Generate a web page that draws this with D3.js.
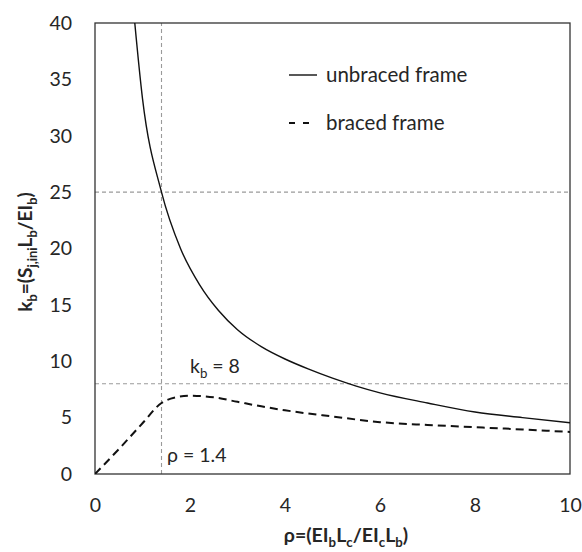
<!DOCTYPE html>
<html>
<head>
<meta charset="utf-8">
<script src="https://cdn.jsdelivr.net/npm/d3@7"></script>
<style>
  body { margin: 0; background: #fff; }
  svg text { font-family: Lato, "Open Sans", sans-serif; fill: #262626; }
</style>
</head>
<body>
<div id="chart"></div>
<script>
// values
const unbracedRho = [0.8, 1.0, 1.4, 1.8, 2.2, 2.6, 3.0, 3.5, 4.0, 4.5, 5.0, 5.5, 6.0, 7.0, 8.0, 9.0, 10.0];
const unbracedK   = [41.7, 33.3, 25.0, 20.0, 16.8, 14.5, 12.8, 11.3, 10.2, 9.3, 8.5, 7.8, 7.2, 6.3, 5.5, 5.0, 4.55];
const bracedRho = [0, 0.5, 1.0, 1.4, 1.7, 2.0, 2.5, 3.0, 3.5, 4.0, 5.0, 6.0, 7.0, 8.0, 9.0, 10.0];
const bracedK   = [0, 2.2, 4.5, 6.3, 6.8, 6.95, 6.8, 6.4, 6.0, 5.65, 5.1, 4.6, 4.35, 4.15, 3.95, 3.73];
const xTicks = [0, 2, 4, 6, 8, 10];
const yTicks = [0, 5, 10, 15, 20, 25, 30, 35, 40];
const rhoMark = 1.4;
const kMarks = [25, 8];
const legendNames = ["unbraced frame", "braced frame"];

const width = 582, height = 552;
const margin = { top: 23, right: 12, bottom: 78, left: 95 };

const svg = d3.select("#chart").append("svg")
    .attr("width", width).attr("height", height);

const x = d3.scaleLinear().domain([0, 10]).range([margin.left, width - margin.right]);
const y = d3.scaleLinear().domain([0, 40]).range([height - margin.bottom, margin.top]);

svg.append("clipPath").attr("id", "plot-clip")
  .append("rect")
    .attr("x", x(0)).attr("y", y(40))
    .attr("width", x(10) - x(0)).attr("height", y(0) - y(40));

// reference lines
const refs = svg.append("g").attr("stroke", "#9a9a9a").attr("stroke-width", 1.1)
    .attr("stroke-dasharray", "4,3").attr("fill", "none");
refs.append("line")
    .attr("x1", x(rhoMark)).attr("x2", x(rhoMark))
    .attr("y1", y(0)).attr("y2", y(40));
refs.selectAll(".hline").data(kMarks).enter().append("line")
    .attr("class", "hline")
    .attr("x1", x(0)).attr("x2", x(10))
    .attr("y1", d => y(d)).attr("y2", d => y(d));

// frame
svg.append("rect")
    .attr("x", x(0)).attr("y", y(40))
    .attr("width", x(10) - x(0)).attr("height", y(0) - y(40))
    .attr("fill", "none").attr("stroke", "#333").attr("stroke-width", 1.3);

// axes (labels only)
const xAxis = svg.append("g")
    .attr("transform", `translate(0,${y(0)})`)
    .call(d3.axisBottom(x).tickValues(xTicks).tickSize(0).tickPadding(24).tickFormat(d3.format("d")));
const yAxis = svg.append("g")
    .attr("transform", `translate(${x(0)},0)`)
    .call(d3.axisLeft(y).tickValues(yTicks).tickSize(0).tickPadding(23).tickFormat(d3.format("d")));
[xAxis, yAxis].forEach(a => {
    a.attr("font-size", 19.5);
    a.select(".domain").remove();
    a.selectAll("text").attr("font-size", 19.5).style("font-family", "Lato, sans-serif").attr("fill", "#262626");
});

// curves
const line = d3.line().x(d => x(d[0])).y(d => y(d[1])).curve(d3.curveMonotoneX);
const plot = svg.append("g").attr("clip-path", "url(#plot-clip)");
plot.append("path")
    .datum(unbracedRho.map((r, i) => [r, unbracedK[i]]))
    .attr("d", line)
    .attr("fill", "none").attr("stroke", "#111").attr("stroke-width", 1.4);
plot.append("path")
    .datum(bracedRho.map((r, i) => [r, bracedK[i]]))
    .attr("d", line)
    .attr("fill", "none").attr("stroke", "#111").attr("stroke-width", 2)
    .attr("stroke-dasharray", "8,5");

// legend
const legend = svg.append("g");
legendNames.forEach((name, i) => {
    const ly = 75 + i * 48;
    legend.append("line")
        .attr("x1", 289).attr("x2", 317).attr("y1", ly).attr("y2", ly)
        .attr("stroke", "#111").attr("stroke-width", i ? 2 : 1.4)
        .attr("stroke-dasharray", i ? "6,8" : null);
    legend.append("text")
        .attr("x", 326).attr("y", ly + 7)
        .attr("font-size", 20.5)
        .text(name);
});

// text with subscripts: parts are strings or {sub: "..."}
function richText(sel, parts, size) {
    sel.attr("font-size", size);
    let shift = 0;
    parts.forEach(p => {
        const sub = typeof p !== "string";
        const target = sub ? size * 0.28 : 0;
        sel.append("tspan")
            .attr("font-size", sub ? size * 0.68 : size)
            .attr("dy", target - shift)
            .text(sub ? p.sub : p);
        shift = target;
    });
}

// annotations
const kLabel = svg.append("text").attr("x", 190).attr("y", 373);
richText(kLabel, ["k", { sub: "b" }, " = 8"], 19.5);
svg.append("text").attr("x", 167).attr("y", 462).attr("font-size", 19.5).text("\u03c1 = 1.4");

// axis titles
const xTitle = svg.append("text")
    .attr("x", 346).attr("y", 542)
    .attr("text-anchor", "middle")
    .attr("font-weight", "bold");
richText(xTitle, ["\u03c1=(EI", { sub: "b" }, "L", { sub: "c" }, "/EI", { sub: "c" }, "L", { sub: "b" }, ")"], 19.5);

const yTitle = svg.append("text")
    .attr("transform", "translate(32,252) rotate(-90)")
    .attr("text-anchor", "middle")
    .attr("font-weight", "bold");
richText(yTitle, ["k", { sub: "b" }, "=(S", { sub: "j,ini" }, "L", { sub: "b" }, "/EI", { sub: "b" }, ")"], 19);
</script>
</body>
</html>
